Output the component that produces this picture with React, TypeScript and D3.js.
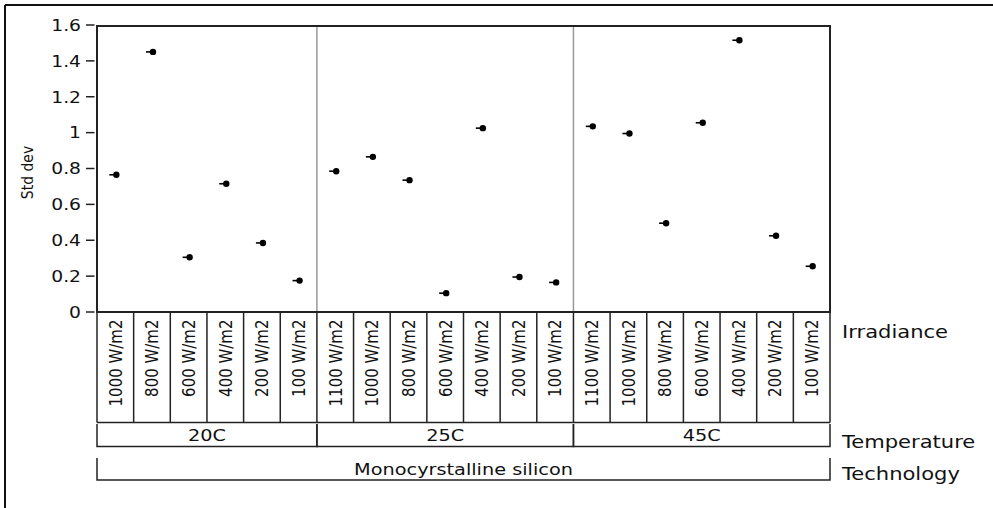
import React from "react";
import * as d3 from "d3";

const temperatures = ["20C", "25C", "45C"];
const irradiance20 = ["1000 W/m2", "800 W/m2", "600 W/m2", "400 W/m2", "200 W/m2", "100 W/m2"];
const irradiance25 = ["1100 W/m2", "1000 W/m2", "800 W/m2", "600 W/m2", "400 W/m2", "200 W/m2", "100 W/m2"];
const irradiance45 = ["1100 W/m2", "1000 W/m2", "800 W/m2", "600 W/m2", "400 W/m2", "200 W/m2", "100 W/m2"];
const std20 = [0.765, 1.45, 0.305, 0.715, 0.385, 0.175];
const std25 = [0.785, 0.865, 0.735, 0.105, 1.025, 0.195, 0.165];
const std45 = [1.035, 0.995, 0.495, 1.055, 1.515, 0.425, 0.255];
const yTicks = [0, 0.2, 0.4, 0.6, 0.8, 1, 1.2, 1.4, 1.6];
const technology = "Monocyrstalline silicon";

const FONT = "DejaVu Sans, Verdana, sans-serif";
const SX = 1.17; // horizontal stretch of the glyphs in the reference

export default function App() {
  const W = 993, H = 508;
  const left = 97, right = 830, top = 26, bottom = 312;
  const groups = [
    { t: temperatures[0], labels: irradiance20, vals: std20 },
    { t: temperatures[1], labels: irradiance25, vals: std25 },
    { t: temperatures[2], labels: irradiance45, vals: std45 },
  ];
  const cols: { key: string; label: string; v: number; g: number }[] = [];
  groups.forEach((g, gi) =>
    g.labels.forEach((l, i) => cols.push({ key: `${gi}-${i}`, label: l, v: g.vals[i], g: gi }))
  );
  const x = d3.scaleBand<string>().domain(cols.map((c) => c.key)).range([left, right]).padding(0);
  const y = d3.scaleLinear().domain([0, 1.6]).range([bottom, 25]);
  const bw = x.bandwidth();

  const cellTop = 313, cellBot = 422.5;
  const tempTop = 424, tempBot = 446.5;
  const techTop = 458, techBot = 480;

  const groupBounds = groups.map((g, gi) => {
    const keys = cols.filter((c) => c.g === gi).map((c) => c.key);
    return { x0: x(keys[0])!, x1: x(keys[keys.length - 1])! + bw, t: g.t };
  });

  const dark = "#222";
  const tx = (px: number, py: number, extra = "") => `translate(${px},${py}) scale(${SX},1)${extra}`;

  return (
    <svg width={W} height={H} style={{ position: "absolute", left: 0, top: 0, background: "#fff" }} fontFamily={FONT}>
      <rect x={0} y={0} width={W} height={H} fill="#fff" />
      {/* outer frame */}
      <line x1={5} x2={W} y1={5} y2={5} stroke="#111" strokeWidth={2} />
      <line x1={5} x2={5} y1={5} y2={H} stroke="#111" strokeWidth={2} />

      {/* y axis */}
      {yTicks.map((t) => (
        <g key={t}>
          <line x1={86} x2={94.5} y1={y(t)} y2={y(t)} stroke={dark} strokeWidth={1.5} />
          <text transform={tx(81, y(t))} dy="0.36em" textAnchor="end" fontSize={16} fill="#111">
            {d3.format("~g")(t)}
          </text>
        </g>
      ))}
      <text transform={tx(33, 172.5, " rotate(-90)")} textAnchor="middle" fontSize={14} fill="#111">
        Std dev
      </text>

      {/* group separators */}
      {groupBounds.slice(1).map((b, i) => (
        <line key={i} x1={b.x0} x2={b.x0} y1={top} y2={bottom} stroke="#999" strokeWidth={1.5} />
      ))}

      {/* plot frame */}
      <rect x={left} y={top} width={right - left} height={bottom - top} fill="none" stroke={dark} strokeWidth={2} />

      {/* points */}
      {cols.map((c) => {
        const cx = x(c.key)! + bw / 2 + 1;
        const cy = y(c.v);
        return (
          <g key={c.key}>
            <line x1={cx - 7} x2={cx} y1={cy} y2={cy} stroke="#000" strokeWidth={1.6} />
            <circle cx={cx} cy={cy} r={3.2} fill="#000" />
          </g>
        );
      })}

      {/* irradiance cells */}
      <line x1={left} x2={right} y1={cellBot} y2={cellBot} stroke={dark} strokeWidth={1.5} />
      {cols.map((c) => (
        <line key={"v" + c.key} x1={x(c.key)!} x2={x(c.key)!} y1={cellTop} y2={cellBot} stroke={dark} strokeWidth={1.5} />
      ))}
      <line x1={right} x2={right} y1={cellTop} y2={cellBot} stroke={dark} strokeWidth={1.5} />
      {cols.map((c) => (
        <text
          key={"t" + c.key}
          transform={tx(x(c.key)! + bw / 2, 319.5, " rotate(-90)")}
          textAnchor="end"
          dy="0.36em"
          fontSize={15}
          fill="#111"
        >
          {c.label}
        </text>
      ))}

      {/* temperature brackets */}
      {groupBounds.map((b, i) => (
        <g key={"tb" + i}>
          <path
            d={`M${b.x0},${tempTop}V${tempBot}H${b.x1}V${tempTop}`}
            fill="none"
            stroke={dark}
            strokeWidth={1.5}
          />
          <text transform={tx((b.x0 + b.x1) / 2, 435.5)} dy="0.36em" textAnchor="middle" fontSize={16.5} fill="#111">
            {b.t}
          </text>
        </g>
      ))}

      {/* technology bracket */}
      <path d={`M${left},${techTop}V${techBot}H${right}V${techTop}`} fill="none" stroke={dark} strokeWidth={1.5} />
      <text transform={tx((left + right) / 2, 469)} dy="0.36em" textAnchor="middle" fontSize={16.5} fill="#111">
        {technology}
      </text>

      {/* row titles */}
      <text transform={tx(842, 337.5)} fontSize={18} fill="#111">Irradiance</text>
      <text transform={tx(842, 447.5)} fontSize={18} fill="#111">Temperature</text>
      <text transform={tx(842, 480)} fontSize={18} fill="#111">Technology</text>
    </svg>
  );
}
